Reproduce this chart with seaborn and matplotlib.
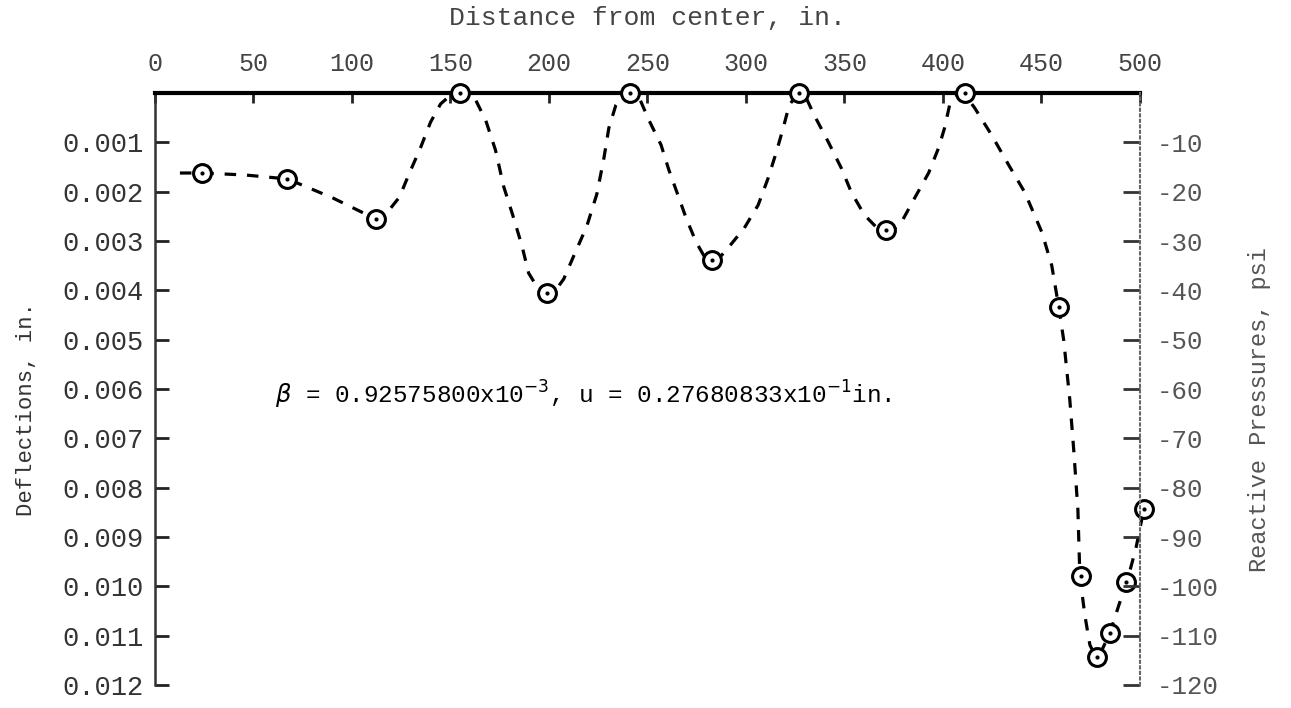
import numpy as np
import pandas as pd
import matplotlib
matplotlib.use('Agg')
import matplotlib.pyplot as plt
import seaborn as sns

# data
point_x = [24, 67, 112, 155, 199, 241, 283, 327, 371, 411, 459, 470, 478, 485, 493, 502]
point_defl = [0.00162, 0.00174, 0.00255, 0.0, 0.00405, 0.0, 0.00339, 0.0,
              0.00278, 0.0, 0.00434, 0.00979, 0.01143, 0.01095, 0.00991, 0.00843]

# trace of the dashed curve (deflection in 1/1000 in.)
curve_x = [12.7, 23.9, 45.8, 67.1, 76.3, 90.5, 104.8, 111.9, 118.5, 124.1, 129.2, 134.8,
           139.9, 145.0, 150.1, 155.1, 162.8, 167.9, 172.9, 177.0, 181.6, 186.2, 189.7,
           194.3, 198.9, 203.5, 207.5, 212.6, 219.2, 224.3, 227.9, 230.4, 234.0, 237.5,
           240.6, 245.7, 250.3, 256.9, 260.9, 265.5, 269.6, 274.7, 278.7, 283.3, 287.4,
           290.9, 299.1, 306.2, 311.3, 315.4, 318.9, 322.0, 326.6, 330.6, 334.7, 341.8,
           348.4, 353.5, 360.1, 366.2, 371.3, 375.4, 378.9, 385.6, 392.7, 397.8, 400.8,
           403.4, 406.9, 410.5, 416.1, 424.7, 433.4, 441.5, 450.2, 455.2, 458.8, 461.3,
           464.4, 466.4, 468.5, 469.5, 472.0, 474.6, 477.6, 481.2, 484.7, 489.3, 493.4,
           498.0, 502.0]
curve_defl = [1.62, 1.62, 1.66, 1.74, 1.89, 2.13, 2.41, 2.55, 2.39, 2.11, 1.62, 1.11,
              0.59, 0.22, 0.04, 0.0, 0.14, 0.55, 1.16, 1.89, 2.47, 3.08, 3.65,
              3.95, 4.05, 3.99, 3.77, 3.30, 2.70, 2.05, 1.32, 0.71, 0.24, 0.04,
              0.0, 0.08, 0.51, 1.05, 1.56, 2.07, 2.53, 3.02, 3.30, 3.39, 3.30,
              3.14, 2.74, 2.27, 1.72, 1.20, 0.71, 0.24, 0.0, 0.10, 0.45, 0.99,
              1.52, 2.01, 2.47, 2.72, 2.78, 2.74, 2.62, 2.13, 1.62, 1.11, 0.71,
              0.24, 0.06, 0.0, 0.30, 0.85, 1.46, 2.01, 2.82, 3.49, 4.34, 5.01,
              6.22, 7.24, 8.45, 9.79, 10.58, 11.19, 11.43, 11.25, 10.95, 10.38, 9.91,
              9.22, 8.43]
curve_defl = [v / 1000 for v in curve_defl]

x_ticks = [0, 50, 100, 150, 200, 250, 300, 350, 400, 450, 500]
defl_ticks = [0.001, 0.002, 0.003, 0.004, 0.005, 0.006, 0.007, 0.008, 0.009, 0.010, 0.011, 0.012]
defl_labels = ['0.001', '0.002', '0.003', '0.004', '0.005', '0.006',
               '0.007', '0.008', '0.009', '0.010', '0.011', '0.012']
press_ticks = [-10, -20, -30, -40, -50, -60, -70, -80, -90, -100, -110, -120]

sns.set_style('white')
plt.rcParams['font.family'] = ['Liberation Mono', 'DejaVu Sans Mono']

curve = pd.DataFrame({'x': curve_x, 'defl': curve_defl})
points = pd.DataFrame({'x': point_x, 'defl': point_defl})

fig = plt.figure(figsize=(12.91, 7.08), dpi=100)
ax = fig.add_axes([0.120, 0.0325, 0.763, 0.836])

sns.lineplot(data=curve, x='x', y='defl', ax=ax, color='black', linewidth=2.3,
             sort=False, zorder=2)
ax.lines[-1].set_dashes([3.6, 3.4])
ax.lines[-1].set_clip_on(False)
sns.scatterplot(data=points, x='x', y='defl', ax=ax, marker='o', s=165,
                facecolor='white', edgecolor='black', linewidth=2.2, zorder=3, clip_on=False)
sns.scatterplot(data=points, x='x', y='defl', ax=ax, marker='o', s=9,
                color='black', linewidth=0, zorder=4, clip_on=False)

ax.set_xlim(0, 500)
ax.set_ylim(0.012, 0)
ax.xaxis.tick_top()
ax.xaxis.set_label_position('top')
ax.set_xticks(x_ticks)
ax.set_xticklabels([str(t) for t in x_ticks], fontsize=18)
ax.set_yticks(defl_ticks)
ax.set_yticklabels(defl_labels, fontsize=19.5)
ax.tick_params(axis='x', direction='in', length=7, width=2, pad=12, colors='#222222',
               labelcolor='#444444')
ax.tick_params(axis='y', direction='in', length=10, width=2, pad=8, colors='#222222',
               labelcolor='#333333')
ax.set_xlabel('Distance from center, in.', fontsize=19, color='#444444', labelpad=20)
ax.set_ylabel('Deflections, in.', fontsize=16, color='#333333')
ax.yaxis.set_label_coords(-0.120, 0.466)

ax.spines['bottom'].set_visible(False)
ax.spines['top'].set_linewidth(3)
ax.spines['top'].set_color('black')
ax.spines['left'].set_linewidth(1.8)
ax.spines['left'].set_color('#333333')
ax.spines['right'].set_visible(False)

ax2 = ax.twinx()
ax2.set_ylim(-120, 0)
ax2.set_yticks(press_ticks)
ax2.set_yticklabels([str(t) for t in press_ticks], fontsize=18.5)
ax2.tick_params(axis='y', direction='in', length=12, width=2, pad=12, colors='#333333',
                labelcolor='#555555')
ax2.set_ylabel('Reactive Pressures, psi', fontsize=17, color='#555555')
ax2.yaxis.set_label_coords(1.110, 0.466)
for side in ['top', 'bottom', 'left']:
    ax2.spines[side].set_visible(False)
ax2.spines['right'].set_linestyle(':')
ax2.spines['right'].set_linewidth(1.5)
ax2.spines['right'].set_color('#666666')

ax.text(0.122, 0.49, r'$\beta$ = 0.92575800x10$^{-3}$, u = 0.27680833x10$^{-1}$in.',
        transform=ax.transAxes, fontsize=17.5, color='black', va='center', ha='left')

fig.savefig('out.png', dpi=100)
